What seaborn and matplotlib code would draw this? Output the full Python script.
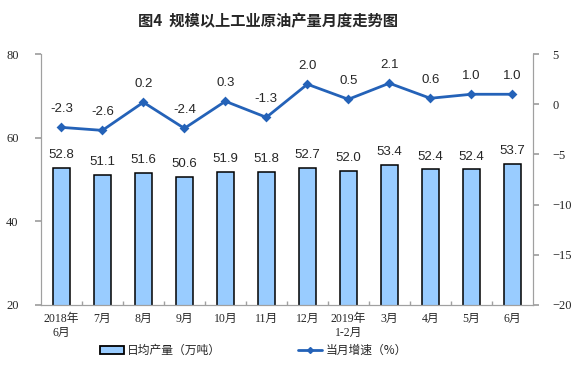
import matplotlib
matplotlib.use("Agg")
import matplotlib.pyplot as plt
import seaborn as sns
import pandas as pd
from matplotlib.lines import Line2D
from matplotlib.patches import Patch

months = ["2018年\n6月", "7月", "8月", "9月", "10月", "11月", "12月",
          "2019年\n1-2月", "3月", "4月", "5月", "6月"]
output = [52.8, 51.1, 51.6, 50.6, 51.9, 51.8, 52.7, 52.0, 53.4, 52.4, 52.4, 53.7]
growth = [-2.3, -2.6, 0.2, -2.4, 0.3, -1.3, 2.0, 0.5, 2.1, 0.6, 1.0, 1.0]

sns.set_theme(style="white")
plt.rcParams['font.family'] = ['Liberation Sans', 'Noto Sans CJK SC']

df = pd.DataFrame({"month": months, "output": output, "growth": growth})

fig = plt.figure(figsize=(5.76, 3.84), dpi=100)
ax = fig.add_axes([0.071, 0.206, 0.854, 0.653])
bar_color = "#99CCFF"
line_color = "#2462B8"

sns.barplot(data=df, x="month", y="output", ax=ax, color=bar_color,
            width=0.4, edgecolor="black", linewidth=1.1, saturation=1)
ax.set_ylim(20, 80)
ax.set_yticks([20, 40, 60, 80])
ax.set_xlabel("")
ax.set_ylabel("")

ax2 = ax.twinx()
sns.pointplot(data=df, x="month", y="growth", ax=ax2, color=line_color,
              markers="D", markersize=3.5, linewidth=2)
ax2.set_ylim(-20, 5)
ax2.set_yticks([-20, -15, -10, -5, 0, 5])
ax2.set_ylabel("")
ax2.set_xlabel("")

for a in (ax, ax2):
    for s in a.spines.values():
        s.set_color("#A0A0A0")
        s.set_linewidth(0.8)
    a.spines["top"].set_visible(False)

ax.tick_params(axis="y", which="both", left=True, length=4, color="#A0A0A0",
               direction="out", labelsize=9, pad=12)
ax2.tick_params(axis="y", which="both", right=True, length=4, color="#A0A0A0",
                direction="out", labelsize=9, pad=10)
ax.set_xlim(-0.5, len(months) - 0.5)
ax.set_xticks(range(len(months)))
ax.set_xticklabels(months)
ax.tick_params(axis="x", length=0, labelsize=8.5, pad=6)
for a in (ax, ax2):
    for lbl in a.get_yticklabels():
        lbl.set_family(['Liberation Serif'])
for lbl in ax.get_xticklabels():
    lbl.set_family(['Liberation Serif', 'Noto Sans CJK SC'])
    lbl.set_linespacing(1.15)
# minor ticks at category boundaries
ax.set_xticks([i + 0.5 for i in range(len(months) - 1)], minor=True)
ax.tick_params(axis="x", which="minor", bottom=True, length=3, direction="in",
               color="#A0A0A0")

for i, v in enumerate(output):
    ax.annotate(f"{v:.1f}", (i, v), xytext=(0, 5), textcoords="offset points",
                ha="center", va="bottom", fontsize=9.5)
for i, v in enumerate(growth):
    ax2.annotate(f"{v:.1f}", (i, v), xytext=(0, 9), textcoords="offset points",
                 ha="center", va="bottom", fontsize=9.5)

fig.text(0.466, 0.945, "图4  规模以上工业原油产量月度走势图", ha="center", va="center",
         fontsize=11, fontweight="bold", family=['Noto Sans CJK SC'])

handles = [Patch(facecolor=bar_color, edgecolor="black", linewidth=1.3),
           Line2D([0], [0], color=line_color, lw=2, marker="D", markersize=3)]
fig.legend(handles, ["日均产量（万吨）", "当月增速（%）"], loc="center",
           bbox_to_anchor=(0.44, 0.087), ncol=2, frameon=False,
           columnspacing=6.5, handlelength=2.0, handleheight=0.6, handletextpad=0.3,
           prop={'family': ['Noto Sans CJK SC'], 'size': 8.5})

fig.savefig("out.png", dpi=100)
